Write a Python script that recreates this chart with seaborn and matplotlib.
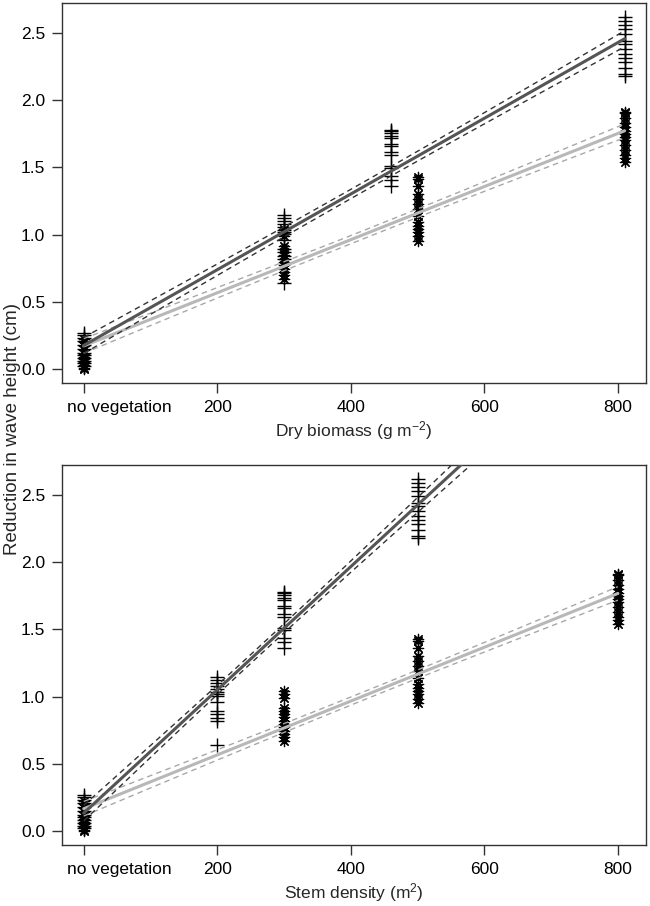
import numpy as np
import pandas as pd
import matplotlib
matplotlib.use('Agg')
import matplotlib.pyplot as plt
import matplotlib.transforms as mtransforms
import seaborn as sns

# --- data: reduction in wave height (cm) ---
ctrl_plus = [0.27, 0.25, 0.23, 0.21, 0.18, 0.15, 0.12, 0.10, 0.08, 0.06, 0.04, 0.02]
ctrl_star = [0.22, 0.20, 0.17, 0.14, 0.11, 0.09, 0.07, 0.05, 0.03, 0.01, 0.00]

plus_low = [1.148, 1.123, 1.099, 1.079, 1.055, 1.035, 1.018, 1.001, 0.961, 0.895, 0.870, 0.838, 0.821, 0.642]
plus_mid = [1.780, 1.775, 1.755, 1.735, 1.716, 1.672, 1.657, 1.613, 1.593, 1.514, 1.497, 1.436, 1.406, 1.362]
plus_high = [2.620, 2.591, 2.559, 2.530, 2.493, 2.443, 2.419, 2.382, 2.345, 2.313, 2.284, 2.240, 2.198, 2.180]

star_low = [1.042, 1.018, 0.988, 0.914, 0.895, 0.870, 0.846, 0.821, 0.796, 0.777, 0.747, 0.723, 0.698, 0.673]
star_mid = [1.430, 1.411, 1.362, 1.300, 1.263, 1.227, 1.190, 1.141, 1.091, 1.067, 1.042, 1.018, 0.986, 0.956]
star_high = [1.910, 1.903, 1.866, 1.829, 1.799, 1.775, 1.750, 1.726, 1.701, 1.669, 1.632, 1.595, 1.571, 1.539]

# x position of each group (control, low, mid, high) in the two panels
biomass_plus = [0, 300, 460, 810]
biomass_star = [0, 300, 500, 810]
density_plus = [0, 200, 300, 500]
density_star = [0, 300, 500, 800]

x_ticks = [0, 200, 400, 600, 800]
x_ticklabels = ['no vegetation', '200', '400', '600', '800']

sns.set_theme(style="ticks")
plt.rcParams['font.family'] = ['Liberation Sans', 'DejaVu Sans']
plt.rcParams['mathtext.default'] = 'regular'


def build(xpos, groups):
    rows = []
    for x, ys in zip(xpos, groups):
        for y in ys:
            rows.append({'x': x, 'y': y})
    return pd.DataFrame(rows)


def fit_lines(df, xmax, t=1.65):
    # ordinary least squares with confidence band
    x, y = df['x'].values.astype(float), df['y'].values
    n = len(x)
    slope, intercept = np.polyfit(x, y, 1)
    resid = y - (intercept + slope * x)
    s = np.sqrt(np.sum(resid ** 2) / (n - 2))
    sxx = np.sum((x - x.mean()) ** 2)
    xg = np.linspace(0, xmax, 100)
    yg = intercept + slope * xg
    se = s * np.sqrt(1 / n + (xg - x.mean()) ** 2 / sxx)
    return pd.DataFrame({'x': xg, 'fit': yg, 'lo': yg - t * se, 'hi': yg + t * se})


def panel(ax, xplus, xstar, xmax, xlabel):
    dplus = build(xplus, [ctrl_plus, plus_low, plus_mid, plus_high])
    dstar = build(xstar, [ctrl_star, star_low, star_mid, star_high])

    sns.scatterplot(data=dplus, x='x', y='y', ax=ax, marker='+', s=95,
                    color='black', linewidth=1.0, zorder=2)
    sns.scatterplot(data=dstar, x='x', y='y', ax=ax, marker=(8, 2, 0), s=55,
                    color='black', edgecolor='black', linewidth=0.9, zorder=2)

    for d, col, dcol in [(dstar, '#b8b8b8', '#a8a8a8'), (dplus, '#555555', '#333333')]:
        f = fit_lines(d, xmax)
        sns.lineplot(data=f, x='x', y='fit', ax=ax, color=col, linewidth=2.2, zorder=3)
        for c in ['lo', 'hi']:
            sns.lineplot(data=f, x='x', y=c, ax=ax, color=dcol, linewidth=1.0,
                         linestyle=(0, (4, 3)), zorder=3)

    ax.set_xlim(-32.5, 842)
    ax.set_ylim(-0.105, 2.725)
    ax.set_yticks([0.0, 0.5, 1.0, 1.5, 2.0, 2.5])
    ax.set_yticklabels(['0.0', '0.5', '1.0', '1.5', '2.0', '2.5'])
    ax.set_xticks(x_ticks)
    ax.set_xticklabels(x_ticklabels)
    ax.set_xlabel(xlabel, fontsize=12.5, labelpad=3)
    ax.set_ylabel('')
    ax.tick_params(direction='out', length=7, width=1, colors='#333333',
                   labelcolor='black', labelsize=12.5, pad=5)
    for sp in ax.spines.values():
        sp.set_visible(True)
        sp.set_color('#333333')
        sp.set_linewidth(1.0)
    # shift "no vegetation" label to the right of its tick
    lab = ax.get_xticklabels()[0]
    lab.set_horizontalalignment('left')
    lab.set_transform(lab.get_transform() + mtransforms.ScaledTranslation(-0.17, 0, ax.figure.dpi_scale_trans))


fig = plt.figure(figsize=(6.5, 9.06), dpi=100)
ax1 = fig.add_axes([0.0954, 0.5773, 0.8984, 0.4194])
ax2 = fig.add_axes([0.0954, 0.0673, 0.8984, 0.4195])

panel(ax1, biomass_plus, biomass_star, 810, 'Dry biomass (g m$^{-2}$)')
panel(ax2, density_plus, density_star, 800, 'Stem density (m$^{2}$)')

fig.text(0.019, 0.5265, 'Reduction in wave height (cm)', rotation=90,
         ha='center', va='center', fontsize=13.5)

fig.savefig('out.png', dpi=100)
